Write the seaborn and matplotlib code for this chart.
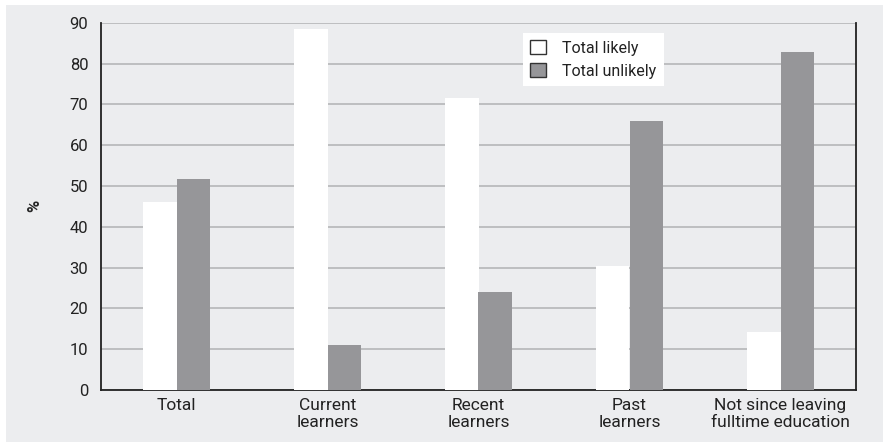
import matplotlib
matplotlib.use("Agg")
import numpy as np
import pandas as pd
import matplotlib.pyplot as plt
import seaborn as sns
from matplotlib.patches import Patch, Rectangle

# values (%)
categories = ["Total", "Current\nlearners", "Recent\nlearners", "Past\nlearners",
              "Not since leaving\nfulltime education"]
series_names = ["Total likely", "Total unlikely"]
likely = [46, 88.5, 71.5, 30.5, 14.3]
unlikely = [51.7, 11, 24, 66, 82.7]
y_ticks = [0, 10, 20, 30, 40, 50, 60, 70, 80, 90]

BG = "#ecedef"
GRID = "#bdbec0"
BAR_GREY = "#969699"
INK = "#222222"

df = pd.DataFrame({
    "category": categories * 2,
    "series": [series_names[0]] * len(categories) + [series_names[1]] * len(categories),
    "value": likely + unlikely,
})

sns.set_theme(style="white")
plt.rcParams["font.family"] = ["Roboto", "DejaVu Sans"]
plt.rcParams["text.color"] = INK

fig = plt.figure(figsize=(8.83, 4.43), dpi=100)
fig.patch.set_facecolor("white")
fig.patches.append(Rectangle((6 / 883, 1 / 443), 1 - 6 / 883, 1 - 6 / 443,
                             transform=fig.transFigure, facecolor=BG,
                             edgecolor="none", zorder=-5))
ax = fig.add_axes([101 / 883, 1 - 390 / 443, 755 / 883, (390 - 22.7) / 443])
ax.set_zorder(1)
ax.set_facecolor(BG)

sns.barplot(data=df, x="category", y="value", hue="series", order=categories,
            hue_order=series_names, palette=["white", BAR_GREY], saturation=1,
            width=0.44, linewidth=0, edgecolor="none", ax=ax, legend=False, zorder=3)

ax.set_ylim(0, 90)
ax.set_xlim(-0.5, len(categories) - 0.5)
ax.set_yticks(y_ticks)
ax.set_yticklabels([str(t) for t in y_ticks], fontsize=12)
ax.yaxis.grid(True, color=GRID, linewidth=1.4, zorder=1)
ax.set_axisbelow(True)

# category labels at centres, tick marks at category boundaries
ax.set_xticks(np.arange(len(categories)))
ax.set_xticklabels(categories, fontsize=12.5, linespacing=1.15)
ax.set_xticks(np.arange(len(categories) + 1) - 0.5, minor=True)
ax.tick_params(axis="x", which="major", length=0, pad=6)
ax.tick_params(axis="x", which="minor", length=5, width=1.3, color=INK, direction="out")
ax.tick_params(axis="y", length=6, width=1.3, color=INK, direction="out", pad=3)
ax.tick_params(colors=INK)

for side in ["left", "bottom", "right"]:
    ax.spines[side].set_visible(True)
    ax.spines[side].set_color(INK)
    ax.spines[side].set_linewidth(1.3)
ax.spines["top"].set_visible(False)

ax.set_xlabel("")
ax.set_ylabel("%", fontsize=12, fontweight="bold")
ax.yaxis.set_label_coords(-59 / 755, 0.5)

handles = [Patch(facecolor="white", edgecolor="#333333", linewidth=1.0),
           Patch(facecolor=BAR_GREY, edgecolor="#333333", linewidth=1.0)]
leg = ax.legend(handles, series_names, loc="upper left",
                bbox_to_anchor=(0.559, 0.972), borderaxespad=0, fontsize=11.5,
                frameon=True, fancybox=False, handlelength=1.0, handleheight=1.0,
                handletextpad=1.0, borderpad=0.45, labelspacing=0.45)
leg.get_frame().set_facecolor("white")
leg.get_frame().set_edgecolor("none")
leg.get_frame().set_alpha(1)

fig.savefig("out.png", dpi=100, facecolor=fig.get_facecolor())
